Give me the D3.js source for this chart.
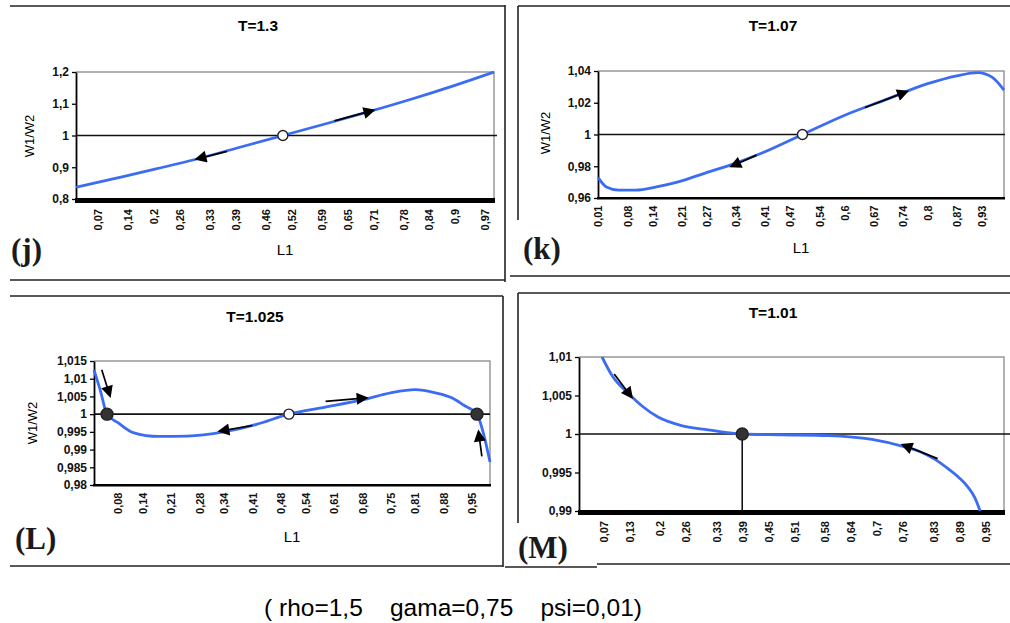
<!DOCTYPE html>
<html>
<head>
<meta charset="utf-8">
<script src="https://d3js.org/d3.v7.min.js"></script>
<style>
body { margin: 0; background: #fff; }
</style>
</head>
<body>
<script>

// ---- data ----
// (j) T=1.3
var jL1 = [0.019, 0.1, 0.2, 0.3, 0.4, 0.5, 0.6, 0.7, 0.8, 0.9, 0.991];
var jW  = [0.837, 0.862, 0.893, 0.926, 0.963, 1.0, 1.037, 1.075, 1.115, 1.158, 1.2];
var jXTicks = [0.07, 0.14, 0.2, 0.26, 0.33, 0.39, 0.46, 0.52, 0.59, 0.65, 0.71, 0.78, 0.84, 0.9, 0.97];
var jYTicks = [0.8, 0.9, 1, 1.1, 1.2];

// (k) T=1.07
var kL1 = [0.01, 0.03, 0.06, 0.1, 0.15, 0.2, 0.27, 0.33, 0.4, 0.5, 0.6, 0.7, 0.8, 0.87, 0.92, 0.955, 0.983];
var kW  = [0.973, 0.967, 0.965, 0.965, 0.967, 0.970, 0.976, 0.981, 0.988, 1.0, 1.012, 1.022, 1.032, 1.037, 1.039, 1.036, 1.028];
var kXTicks = [0.01, 0.08, 0.14, 0.21, 0.27, 0.34, 0.41, 0.47, 0.54, 0.6, 0.67, 0.74, 0.8, 0.87, 0.93];
var kYTicks = [0.96, 0.98, 1, 1.02, 1.04];

// (L) T=1.025
var lL1 = [0.021, 0.036, 0.053, 0.08, 0.117, 0.18, 0.25, 0.34, 0.42, 0.5, 0.58, 0.68, 0.75, 0.81, 0.86, 0.9, 0.93, 0.962, 0.978, 0.994];
var lW  = [1.0125, 1.0069, 1.0, 0.9976, 0.9948, 0.9937, 0.9938, 0.995, 0.9971, 1.0, 1.0018, 1.004, 1.006, 1.0069, 1.006, 1.0046, 1.0025, 1.0, 0.9945, 0.9865];
var lXTicks = [0.08, 0.14, 0.21, 0.28, 0.34, 0.41, 0.48, 0.54, 0.61, 0.68, 0.75, 0.81, 0.88, 0.95];
var lYTicks = [0.98, 0.985, 0.99, 0.995, 1, 1.005, 1.01, 1.015];

// (M) T=1.01
var mL1 = [0.067, 0.09, 0.131, 0.16, 0.196, 0.25, 0.304, 0.39, 0.48, 0.588, 0.689, 0.76, 0.80, 0.834, 0.864, 0.89, 0.91, 0.926, 0.938];
var mW  = [1.01, 1.0076, 1.0051, 1.0036, 1.0022, 1.0011, 1.0006, 1.0, 0.9999, 0.9998, 0.9993, 0.9984, 0.9977, 0.9967, 0.9955, 0.9943, 0.9931, 0.9917, 0.99];
var mXTicks = [0.07, 0.13, 0.2, 0.26, 0.33, 0.39, 0.45, 0.51, 0.58, 0.64, 0.7, 0.76, 0.83, 0.89, 0.95];
var mYTicks = [0.99, 0.995, 1, 1.005, 1.01];

// arrows: [from L1, from W, to L1, to W] (head at "to")
var jArrows = [[0.37, 0.95, 0.3, 0.926], [0.62, 1.046, 0.71, 1.079]];
var kArrows = [[0.39, 0.987, 0.33, 0.980], [0.65, 1.017, 0.75, 1.027]];
var lArrows = [[0.41, 0.9968, 0.33, 0.9952], [0.59, 1.0036, 0.69, 1.0046], [0.04, 1.0125, 0.06, 1.0052], [0.974, 0.9881, 0.966, 0.9950]];
var mArrows = [[0.095, 1.0078, 0.135, 1.0048], [0.84, 0.9968, 0.76, 0.9986]];

// fixed points: [L1, W, stable?]
var jPoints = [[0.5, 1, false]];
var kPoints = [[0.5, 1, false]];
var lPoints = [[0.053, 1, true], [0.5, 1, false], [0.962, 1, true]];
var mPoints = [[0.39, 1, true]];

var width = 1010, height = 623;
var blue = "#3c6cf2";
var sans = "Liberation Sans, Arial, sans-serif";
var fmt = d3.formatLocale({decimal: ",", thousands: ".", grouping: [3], currency: ["", ""]}).format(".4~f");

var svg = d3.select("body").append("svg")
    .attr("width", width)
    .attr("height", height)
    .style("font-family", sans);

svg.append("defs").append("marker")
    .attr("id", "head")
    .attr("viewBox", "0 0 10 10")
    .attr("refX", 8).attr("refY", 5)
    .attr("markerWidth", 13).attr("markerHeight", 12)
    .attr("markerUnits", "userSpaceOnUse")
    .attr("orient", "auto")
    .append("path")
    .attr("d", "M0,0L10,5L0,10z")
    .attr("fill", "#000");

// frame lines around the panels
var frames = [
    [10, 6, 505, 6], [10, 280, 505, 280], [505, 5, 505, 282],
    [518, 6, 1010, 6], [518, 6, 518, 220], [510, 276, 1010, 276],
    [10, 296, 503, 296], [503, 296, 503, 567], [10, 566, 503, 566],
    [518, 293, 1010, 293], [518, 293, 518, 523], [597, 564, 1010, 564], [505, 567, 597, 567]
];
svg.append("g").selectAll("line").data(frames).enter().append("line")
    .attr("x1", function (d) { return d[0]; })
    .attr("y1", function (d) { return d[1]; })
    .attr("x2", function (d) { return d[2]; })
    .attr("y2", function (d) { return d[3]; })
    .attr("stroke", "#222").attr("stroke-width", 1.6);

var panels = [
    {l1: jL1, w: jW, xt: jXTicks, yt: jYTicks, arrows: jArrows, pts: jPoints, title: "T=1.3",
     box: [76, 494, 72, 199], xDom: [0.019, 0.991], yDom: [0.8, 1.2], hEnd: 497, axisW: 5,
     letter: "(j)", lx: 11, ly: 260, cx: 258, ty: 31, l1y: 255, ylab: [29, 136]},
    {l1: kL1, w: kW, xt: kXTicks, yt: kYTicks, arrows: kArrows, pts: kPoints, title: "T=1.07",
     box: [598, 1004, 71, 198], xDom: [0.01, 0.983], yDom: [0.96, 1.04], hEnd: 1005, axisW: 2.5,
     letter: "(k)", lx: 523, ly: 259, cx: 773, ty: 31, l1y: 253, ylab: [545, 133]},
    {l1: lL1, w: lW, xt: lXTicks, yt: lYTicks, arrows: lArrows, pts: lPoints, title: "T=1.025",
     box: [94, 490, 361, 485], xDom: [0.021, 0.994], yDom: [0.98, 1.015], hEnd: 490, axisW: 2.5,
     letter: "(L)", lx: 15, ly: 549, cx: 255, ty: 322, l1y: 542, ylab: [32, 423]},
    {l1: mL1, w: mW, xt: mXTicks, yt: mYTicks, arrows: mArrows, pts: mPoints, title: "T=1.01",
     box: [579, 1004, 357, 511], xDom: [0.014, 0.993], yDom: [0.99, 1.01], hEnd: 1010, axisW: 5,
     letter: "(M)", lx: 518, ly: 558, cx: 773, ty: 318, l1y: null, ylab: null, drop: true}
];

panels.forEach(drawPanel);

function drawPanel(p) {
    var b = p.box;
    var x = d3.scaleLinear().domain(p.xDom).range([b[0], b[1]]);
    var y = d3.scaleLinear().domain(p.yDom).range([b[3], b[2]]);
    var g = svg.append("g");

    // gray plot border top/right
    g.append("path")
        .attr("d", "M" + b[0] + "," + b[2] + "H" + b[1] + "V" + b[3])
        .attr("fill", "none").attr("stroke", "#999").attr("stroke-width", 1.5);

    // y axis
    var ya = g.append("g").attr("transform", "translate(" + b[0] + ",0)")
        .call(d3.axisLeft(y).tickValues(p.yt).tickSize(4).tickSizeOuter(0).tickFormat(fmt));
    ya.select(".domain").attr("stroke", "#000").attr("stroke-width", 1.8);
    ya.selectAll(".tick line").attr("stroke", "#000").attr("stroke-width", 1.3);
    ya.selectAll("text").attr("font-size", 12).attr("font-weight", "bold").attr("fill", "#111")
        .attr("font-family", sans);

    // x axis with rotated labels
    var xa = g.append("g").attr("transform", "translate(0," + b[3] + ")")
        .call(d3.axisBottom(x).tickValues(p.xt).tickSize(0).tickFormat(fmt));
    xa.select(".domain").remove();
    xa.selectAll("text")
        .attr("font-size", 11).attr("font-weight", "bold").attr("fill", "#111")
        .attr("font-family", sans)
        .attr("text-anchor", "end")
        .attr("transform", "translate(0," + (p.axisW + 5) + ") rotate(-90)")
        .attr("x", 0).attr("y", 0).attr("dy", "0.35em");
    g.append("line")
        .attr("x1", b[0] - 1).attr("x2", b[1] + 1)
        .attr("y1", b[3] + p.axisW / 2 - 1).attr("y2", b[3] + p.axisW / 2 - 1)
        .attr("stroke", "#000").attr("stroke-width", p.axisW);

    // reference line W1/W2 = 1
    g.append("line")
        .attr("x1", b[0]).attr("x2", p.hEnd)
        .attr("y1", y(1)).attr("y2", y(1))
        .attr("stroke", "#111").attr("stroke-width", 1.6);

    if (p.drop) {
        g.append("line")
            .attr("x1", x(p.pts[0][0])).attr("x2", x(p.pts[0][0]))
            .attr("y1", y(1)).attr("y2", b[3])
            .attr("stroke", "#111").attr("stroke-width", 1.6);
    }

    // curve
    var pts = p.l1.map(function (v, i) { return [v, p.w[i]]; });
    g.append("path").datum(pts)
        .attr("fill", "none").attr("stroke", blue).attr("stroke-width", 2.8)
        .attr("d", d3.line()
            .x(function (d) { return x(d[0]); })
            .y(function (d) { return y(d[1]); })
            .curve(d3.curveMonotoneX));

    // arrows
    g.selectAll(".arr").data(p.arrows).enter().append("line")
        .attr("x1", function (d) { return x(d[0]); })
        .attr("y1", function (d) { return y(d[1]); })
        .attr("x2", function (d) { return x(d[2]); })
        .attr("y2", function (d) { return y(d[3]); })
        .attr("stroke", "#000").attr("stroke-width", 1.7)
        .attr("marker-end", "url(#head)");

    // fixed points
    g.selectAll(".fp").data(p.pts).enter().append("circle")
        .attr("cx", function (d) { return x(d[0]); })
        .attr("cy", function (d) { return y(d[1]); })
        .attr("r", function (d) { return d[2] ? 6 : 5; })
        .attr("fill", function (d) { return d[2] ? "#333" : "#fff"; })
        .attr("stroke", "#222").attr("stroke-width", 1.4);

    // texts
    g.append("text").attr("x", p.cx).attr("y", p.ty).attr("text-anchor", "middle")
        .attr("font-size", 15.5).attr("font-weight", "bold").text(p.title);
    if (p.l1y) {
        g.append("text").attr("x", (b[0] + b[1]) / 2).attr("y", p.l1y).attr("text-anchor", "middle")
            .attr("font-size", 15).text("L1");
    }
    if (p.ylab) {
        g.append("text").attr("transform", "translate(" + p.ylab[0] + "," + p.ylab[1] + ") rotate(-90)")
            .attr("text-anchor", "middle").attr("dy", "0.35em")
            .attr("font-size", 13).text("W1/W2");
    }
    g.append("text").attr("x", p.lx).attr("y", p.ly)
        .style("font-family", "Liberation Serif, Times New Roman, serif")
        .attr("font-size", 31).attr("font-weight", "bold").attr("fill", "#1a1a1a")
        .text(p.letter);
}

svg.append("text").attr("x", 453).attr("y", 616).attr("text-anchor", "middle")
    .attr("font-size", 24.5).attr("xml:space", "preserve")
    .style("white-space", "pre")
    .text("( rho=1,5    gama=0,75    psi=0,01)");

</script>
</body>
</html>
